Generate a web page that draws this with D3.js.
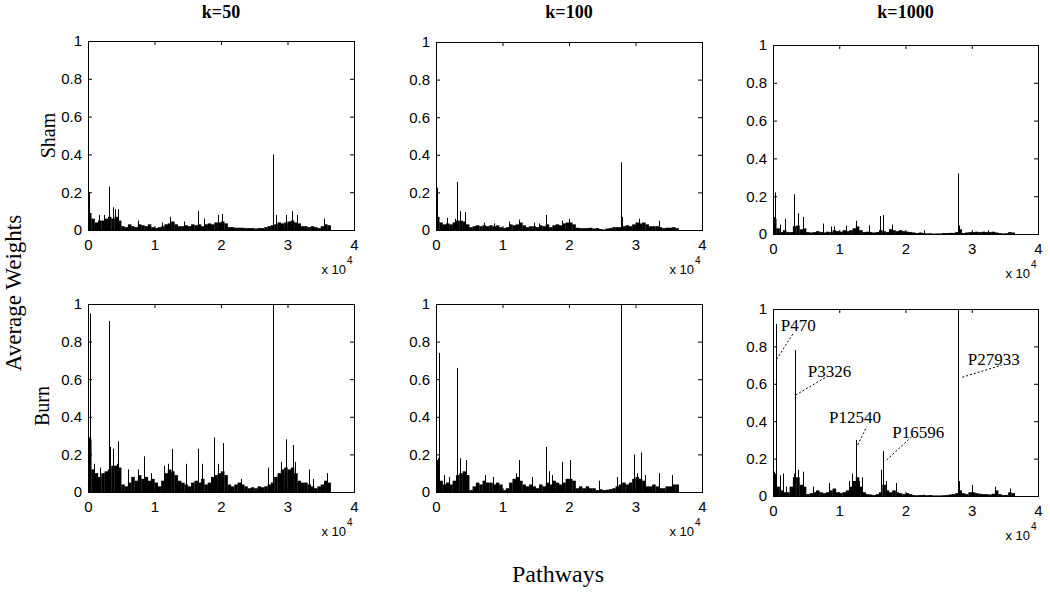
<!DOCTYPE html>
<html>
<head>
<meta charset="utf-8">
<script src="https://cdn.jsdelivr.net/npm/d3@7"></script>
<style>
  body { margin: 0; background: #fff; }
  svg { display: block; }
</style>
</head>
<body>
<div id="chart"></div>
<script>
// Columns (k values) and rows (groups)
var categories = ["k=50", "k=100", "k=1000"];
var groups = ["Sham", "Burn"];

// Ticks (x axis in units of 10^4 pathways)
var xTicks = [0, 1, 2, 3, 4];
var yTicks = [0, 0.2, 0.4, 0.6, 0.8, 1];

// Background level of the weights, one value per block of 500 pathways
var binSize = 500;
var shamK50Bins = [0.09, 0.06, 0.04, 0.05, 0.05, 0.06, 0.07, 0.06, 0.07, 0.05,
  0.02, 0.015, 0.03, 0.02, 0.015, 0.03, 0.025, 0.02, 0.03, 0.015,
  0.01, 0.015, 0.02, 0.03, 0.035, 0.045, 0.03, 0.02, 0.02, 0.025,
  0.02, 0.03, 0.025, 0.03, 0.02, 0.03, 0.035, 0.03, 0.04, 0.04,
  0.045, 0.035, 0.015, 0.015, 0.012, 0.012, 0.012, 0.01, 0.01, 0.01,
  0.008, 0.01, 0.01, 0.015, 0.02, 0.025, 0.03, 0.04, 0.035, 0.04,
  0.045, 0.05, 0.04, 0.035, 0.02, 0.02, 0.015, 0.02, 0.015, 0.01,
  0.02, 0.03, 0.025];
var shamK100Bins = [0.07, 0.04, 0.03, 0.035, 0.03, 0.04, 0.05, 0.05, 0.045, 0.03,
  0.015, 0.02, 0.025, 0.02, 0.025, 0.02, 0.025, 0.02, 0.025, 0.015,
  0.01, 0.015, 0.03, 0.025, 0.03, 0.04, 0.025, 0.015, 0.02, 0.02,
  0.015, 0.025, 0.02, 0.03, 0.015, 0.025, 0.03, 0.025, 0.035, 0.04,
  0.04, 0.03, 0.012, 0.01, 0.01, 0.01, 0.012, 0.008, 0.01, 0.005,
  0.003, 0.008, 0.01, 0.015, 0.015, 0.015, 0.02, 0.025, 0.02, 0.03,
  0.04, 0.035, 0.04, 0.03, 0.02, 0.02, 0.02, 0.015, 0.01, 0.012,
  0.012, 0.015, 0.01];
var shamK1000Bins = [0.08, 0.03, 0.01, 0.02, 0.01, 0.01, 0.04, 0.045, 0.025, 0.03,
  0.01, 0.008, 0.01, 0.015, 0.01, 0.008, 0.012, 0.01, 0.02, 0.015,
  0.012, 0.02, 0.015, 0.02, 0.03, 0.04, 0.02, 0.01, 0.012, 0.01,
  0.008, 0.01, 0.02, 0.015, 0.01, 0.025, 0.02, 0.015, 0.02, 0.015,
  0.012, 0.01, 0.008, 0.005, 0.008, 0.005, 0.003, 0.004, 0.002, 0.003,
  0.003, 0.005, 0.005, 0.006, 0.006, 0.01, 0.025, 0.005, 0.008, 0.01,
  0.01, 0.012, 0.01, 0.012, 0.01, 0.01, 0.012, 0.008, 0.005, 0.003,
  0.004, 0.01, 0.008];
var burnK50Bins = [0.28, 0.12, 0.1, 0.08, 0.1, 0.11, 0.12, 0.14, 0.14, 0.13,
  0.04, 0.03, 0.05, 0.08, 0.06, 0.09, 0.07, 0.08, 0.06, 0.07,
  0.05, 0.03, 0.06, 0.1, 0.12, 0.11, 0.09, 0.06, 0.05, 0.04,
  0.03, 0.05, 0.06, 0.05, 0.07, 0.04, 0.05, 0.08, 0.09, 0.1,
  0.11, 0.09, 0.04, 0.03, 0.04, 0.05, 0.04, 0.03, 0.02, 0.025,
  0.02, 0.03, 0.025, 0.03, 0.04, 0.05, 0.08, 0.1, 0.12, 0.13,
  0.12, 0.13, 0.1, 0.06, 0.05, 0.05, 0.04, 0.03, 0.02, 0.03,
  0.04, 0.06, 0.05];
var burnK100Bins = [0.17, 0.06, 0.04, 0.05, 0.04, 0.06, 0.09, 0.1, 0.11, 0.09,
  0.01, 0.03, 0.05, 0.04, 0.06, 0.05, 0.05, 0.04, 0.05, 0.04,
  0.01, 0.02, 0.05, 0.07, 0.08, 0.06, 0.04, 0.03, 0.04, 0.03,
  0.02, 0.04, 0.03, 0.05, 0.04, 0.06, 0.05, 0.04, 0.05, 0.07,
  0.07, 0.06, 0.02, 0.03, 0.02, 0.03, 0.02, 0.02, 0.01, 0.015,
  0.01, 0.012, 0.015, 0.02, 0.03, 0.04, 0.05, 0.04, 0.05, 0.07,
  0.08, 0.07, 0.06, 0.03, 0.03, 0.04, 0.03, 0.02, 0.02, 0.03,
  0.03, 0.04, 0.04];
var burnK1000Bins = [0.12, 0.05, 0.03, 0.02, 0.02, 0.05, 0.1, 0.1, 0.06, 0.05,
  0.01, 0.015, 0.02, 0.03, 0.02, 0.015, 0.02, 0.03, 0.04, 0.02,
  0.015, 0.02, 0.03, 0.05, 0.08, 0.1, 0.05, 0.02, 0.01, 0.008,
  0.005, 0.01, 0.02, 0.06, 0.03, 0.02, 0.03, 0.02, 0.015, 0.01,
  0.015, 0.01, 0.005, 0.004, 0.005, 0.006, 0.004, 0.005, 0.003, 0.003,
  0.003, 0.004, 0.005, 0.008, 0.01, 0.015, 0.03, 0.015, 0.01, 0.02,
  0.02, 0.015, 0.012, 0.01, 0.01, 0.008, 0.012, 0.03, 0.01, 0.005,
  0.005, 0.02, 0.015];

// Single pathways standing out of the background: [pathway index, weight]
var shamK50Spikes = [[200, 0.2], [1700, 0.08], [2400, 0.08], [3200, 0.23], [3700, 0.12],
  [4000, 0.11], [4500, 0.11], [7500, 0.05], [11200, 0.04], [12300, 0.07], [14500, 0.045],
  [16500, 0.1], [17500, 0.06], [19500, 0.08], [20100, 0.085], [27800, 0.4], [28200, 0.08],
  [29800, 0.08], [30700, 0.1], [31500, 0.08], [35500, 0.06]];
var shamK100Spikes = [[200, 0.225], [1700, 0.065], [2800, 0.06], [3200, 0.255], [3600, 0.1],
  [4400, 0.095], [7200, 0.04], [8700, 0.035], [11000, 0.045], [12500, 0.055], [14800, 0.04],
  [15500, 0.035], [16500, 0.08], [19000, 0.05], [20000, 0.06], [27800, 0.36], [28000, 0.07],
  [30600, 0.06], [33500, 0.05]];
var shamK1000Spikes = [[150, 0.09], [350, 0.22], [1000, 0.05], [1800, 0.08], [3000, 0.04],
  [3200, 0.21], [3700, 0.11], [4600, 0.09], [7500, 0.055], [8700, 0.04], [9200, 0.04],
  [11000, 0.045], [12500, 0.07], [14500, 0.045], [16200, 0.095], [16600, 0.1], [18000, 0.05],
  [22800, 0.02], [27850, 0.32], [28000, 0.045], [32500, 0.02]];
var burnK50Spikes = [[200, 0.29], [350, 0.95], [900, 0.15], [1800, 0.13], [3200, 0.91],
  [3300, 0.24], [3700, 0.23], [4300, 0.15], [4500, 0.27], [6000, 0.12], [7500, 0.12],
  [8400, 0.19], [9500, 0.1], [11500, 0.14], [12000, 0.15], [12600, 0.23], [14700, 0.15],
  [16500, 0.23], [17200, 0.15], [19000, 0.29], [19500, 0.15], [20300, 0.26], [23000, 0.07],
  [27000, 0.13], [27800, 1.0], [29000, 0.16], [29700, 0.28], [30800, 0.25], [31200, 0.16],
  [33300, 0.12], [33800, 0.07], [36000, 0.1]];
var burnK100Spikes = [[300, 0.18], [500, 0.74], [1200, 0.09], [2000, 0.08], [3200, 0.66],
  [3600, 0.18], [4500, 0.17], [7300, 0.09], [8500, 0.08], [12000, 0.1], [12500, 0.17],
  [14500, 0.08], [16500, 0.24], [17000, 0.11], [17500, 0.09], [19000, 0.16], [20200, 0.17],
  [24500, 0.06], [27200, 0.08], [27800, 1.0], [29700, 0.2], [30300, 0.1], [30800, 0.21],
  [31500, 0.09], [33500, 0.1], [35500, 0.09]];
var burnK1000Spikes = [[200, 0.13], [470, 0.92], [1000, 0.11], [1500, 0.12], [2000, 0.05],
  [3100, 0.12], [3326, 0.78], [3700, 0.14], [4500, 0.13], [6000, 0.05], [8500, 0.07],
  [11500, 0.08], [12000, 0.12], [12540, 0.3], [13000, 0.08], [13500, 0.1], [16300, 0.14],
  [16596, 0.24], [17000, 0.08], [18500, 0.07], [27933, 1.0], [28100, 0.08], [30000, 0.06],
  [33500, 0.05], [35800, 0.04]];

// Labelled pathways in the Burn / k=1000 panel
var annotationLabels = ["P470", "P3326", "P12540", "P16596", "P27933"];

var binsByPanel = [[shamK50Bins, shamK100Bins, shamK1000Bins], [burnK50Bins, burnK100Bins, burnK1000Bins]];
var spikesByPanel = [[shamK50Spikes, shamK100Spikes, shamK1000Spikes], [burnK50Spikes, burnK100Spikes, burnK1000Spikes]];

// ---- layout ----
var svgWidth = 1050, svgHeight = 593;
var colX = [[88, 354], [436, 702], [773, 1038]];
var rowY = [[[41, 230], [42, 230], [45, 234]], [[304, 492], [304, 492], [309, 496]]];
var rowLabelX = [55, 49];
// label position and leader line, in data units of the panel (x pathways, y weight)
var annotationLayout = [
  { tx: 1160, ty: 0.884, x1: 560, y1: 0.731, x2: 3060, y2: 0.87 },
  { tx: 5240, ty: 0.635, x1: 3430, y1: 0.54, x2: 8100, y2: 0.638 },
  { tx: 8450, ty: 0.389, x1: 12790, y1: 0.273, x2: 14140, y2: 0.371 },
  { tx: 18000, ty: 0.309, x1: 17160, y1: 0.193, x2: 20940, y2: 0.317 },
  { tx: 29390, ty: 0.70, x1: 28580, y1: 0.635, x2: 34520, y2: 0.70 }
];

var sans = "'Liberation Sans', Arial, sans-serif";
var serif = "'Liberation Serif', 'Times New Roman', serif";

var svg = d3.select("#chart")
  .append("svg")
  .attr("width", svgWidth)
  .attr("height", svgHeight);

// Column titles
categories.forEach(function(c, ci) {
  svg.append("text")
    .attr("x", (colX[ci][0] + colX[ci][1]) / 2)
    .attr("y", 18)
    .attr("text-anchor", "middle")
    .attr("font-family", serif)
    .attr("font-weight", "bold")
    .attr("font-size", "18px")
    .text(c);
});

// Row labels
groups.forEach(function(g, ri) {
  var yc = (rowY[ri][0][0] + rowY[ri][0][1]) / 2 + (ri === 1 ? 8 : 0);
  svg.append("text")
    .attr("transform", `translate(${rowLabelX[ri]}, ${yc}) rotate(-90)`)
    .attr("text-anchor", "middle")
    .attr("font-family", serif)
    .attr("font-size", "20px")
    .text(g);
});

// Overall axis titles
svg.append("text")
  .attr("transform", "translate(21, 293) rotate(-90)")
  .attr("text-anchor", "middle")
  .attr("font-family", serif)
  .attr("font-size", "23px")
  .text("Average Weights");

svg.append("text")
  .attr("x", 558)
  .attr("y", 582)
  .attr("text-anchor", "middle")
  .attr("font-family", serif)
  .attr("font-size", "24px")
  .text("Pathways");

groups.forEach(function(g, ri) {
  categories.forEach(function(c, ci) {
    var x0 = colX[ci][0], x1 = colX[ci][1];
    var y0 = rowY[ri][ci][0], y1 = rowY[ri][ci][1];

    var xScale = d3.scaleLinear().domain([0, 40000]).range([x0, x1]);
    var yScale = d3.scaleLinear().domain([0, 1]).range([y1, y0]);

    var panel = svg.append("g");
    var bins = binsByPanel[ri][ci];
    var spikes = spikesByPanel[ri][ci];

    // background blocks
    panel.append("g")
      .selectAll("rect")
      .data(bins)
      .enter()
      .append("rect")
      .attr("x", (d, i) => xScale(i * binSize))
      .attr("width", (d, i) => xScale((i + 1) * binSize) - xScale(i * binSize) + 0.2)
      .attr("y", d => yScale(d))
      .attr("height", d => yScale(0) - yScale(d))
      .attr("fill", "#000");

    // single pathways as stems
    panel.append("g")
      .selectAll("line")
      .data(spikes)
      .enter()
      .append("line")
      .attr("x1", d => Math.round(xScale(d[0])) + 0.5)
      .attr("x2", d => Math.round(xScale(d[0])) + 0.5)
      .attr("y1", yScale(0))
      .attr("y2", d => yScale(d[1]))
      .attr("stroke", "#000")
      .attr("stroke-width", 1);

    // axes, MATLAB style: ticks inside on all four sides
    var tickLen = 4;
    var bottom = panel.append("g").attr("transform", `translate(0, ${y1})`)
      .call(d3.axisBottom(xScale).tickValues(xTicks.map(t => t * 10000)).tickSize(-tickLen).tickPadding(6).tickFormat(d => d / 10000));
    var top = panel.append("g").attr("transform", `translate(0, ${y0})`)
      .call(d3.axisTop(xScale).tickValues(xTicks.map(t => t * 10000)).tickSize(-tickLen).tickFormat(""));
    var left = panel.append("g").attr("transform", `translate(${x0}, 0)`)
      .call(d3.axisLeft(yScale).tickValues(yTicks).tickSize(-tickLen).tickPadding(6).tickFormat(d => d));
    var right = panel.append("g").attr("transform", `translate(${x1}, 0)`)
      .call(d3.axisRight(yScale).tickValues(yTicks).tickSize(-tickLen).tickFormat(""));

    [bottom, top, left, right].forEach(function(a) {
      a.select(".domain").remove();
      a.selectAll(".tick line").attr("stroke", "#000");
      a.selectAll(".tick text")
        .attr("font-family", sans)
        .attr("font-size", "15px")
        .attr("fill", "#000");
    });
    bottom.selectAll(".tick text").attr("dy", "0.9em");

    panel.append("rect")
      .attr("x", x0 + 0.5)
      .attr("y", y0 + 0.5)
      .attr("width", x1 - x0)
      .attr("height", y1 - y0)
      .attr("fill", "none")
      .attr("stroke", "#000")
      .attr("stroke-width", 1);

    // x 10^4 exponent label
    var ex = panel.append("text")
      .attr("x", x1 - 8)
      .attr("y", y1 + 44)
      .attr("text-anchor", "end")
      .attr("font-family", sans)
      .attr("font-size", "13px")
      .text("x 10");
    panel.append("text")
      .attr("x", x1 - 7)
      .attr("y", y1 + 34)
      .attr("font-family", sans)
      .attr("font-size", "10px")
      .text("4");

    // annotations in the Burn / k=1000 panel
    if (ri === 1 && ci === 2) {
      annotationLabels.forEach(function(lab, k) {
        var a = annotationLayout[k];
        panel.append("line")
          .attr("x1", xScale(a.x1)).attr("y1", yScale(a.y1))
          .attr("x2", xScale(a.x2)).attr("y2", yScale(a.y2))
          .attr("stroke", "#000")
          .attr("stroke-width", 1)
          .attr("stroke-dasharray", "2,2");
        panel.append("text")
          .attr("x", xScale(a.tx))
          .attr("y", yScale(a.ty))
          .attr("font-family", serif)
          .attr("font-size", "17px")
          .text(lab);
      });
    }
  });
});
</script>
</body>
</html>
